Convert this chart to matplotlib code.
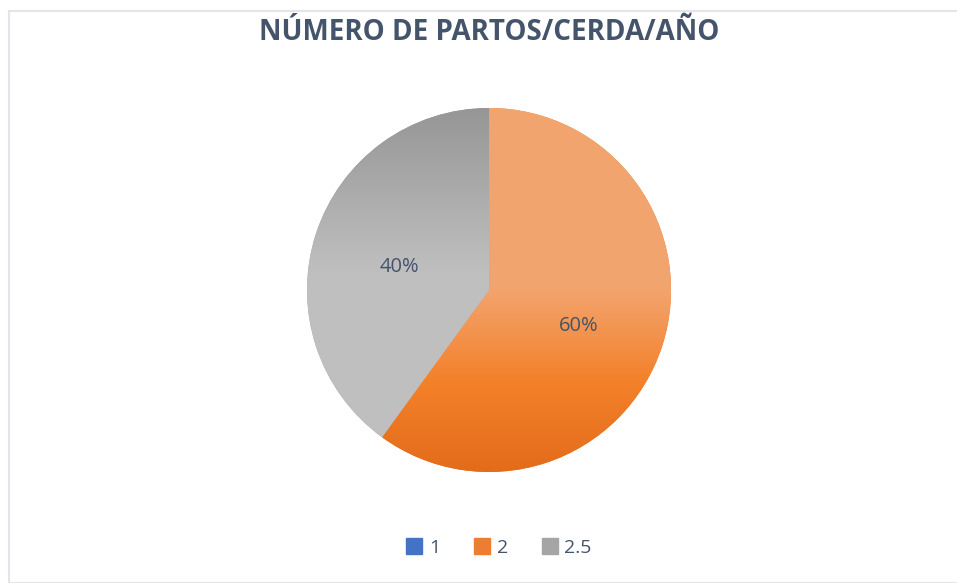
import matplotlib
matplotlib.use("Agg")
import matplotlib.pyplot as plt
import numpy as np
from matplotlib.colors import LinearSegmentedColormap
from matplotlib.lines import Line2D
from matplotlib.patches import Rectangle

categories = ["1", "2", "2.5"]
values = [0, 60, 40]
title = "NÚMERO DE PARTOS/CERDA/AÑO"

base_colors = ["#4472C4", "#ED7D31", "#A5A5A5"]
# vertical gradient stops (position from bottom=0 to top=1)
gradients = [
    [(0.0, "#3A63B0"), (1.0, "#6A8FD3")],
    [(0.0, "#E36C1A"), (0.25, "#F4812A"), (0.5, "#F2A46E"), (1.0, "#F2A46E")],
    [(0.0, "#BFBFBF"), (0.55, "#BFBFBF"), (1.0, "#969696")],
]

txt_color = "#44546A"
fig = plt.figure(figsize=(9.57, 5.83), dpi=100)
fig.patch.set_facecolor("white")

# chart border
fig.patches.append(Rectangle((9/957, 0), 1, 1 - 11/583, transform=fig.transFigure,
                             fill=False, edgecolor="#E4E4EA", linewidth=1.5))

ax = fig.add_axes([0.3208, 0.1904, 0.3804, 0.6244])
ax.set_aspect("equal")

def pct(p):
    return "" if p < 0.5 else f"{p:.0f}%"

wedges, texts, autotexts = ax.pie(values, colors=base_colors, startangle=90,
                                  counterclock=False, autopct=pct,
                                  pctdistance=0.52, radius=1.0,
                                  wedgeprops=dict(linewidth=0))
ax.set_xlim(-1, 1)
ax.set_ylim(-1, 1)

for w, g in zip(wedges, gradients):
    cmap = LinearSegmentedColormap.from_list("g", g)
    grad = np.linspace(0, 1, 256).reshape(-1, 1)
    im = ax.imshow(grad, cmap=cmap, origin="lower", extent=[-1, 1, -1, 1],
                   aspect="auto", zorder=w.get_zorder() + 0.1, interpolation="bilinear")
    im.set_clip_path(w)

for t in autotexts:
    t.set_color(txt_color)
    t.set_fontsize(14.5)
    t.set_fontfamily("Open Sans")
    t.set_zorder(10)
    x, y = t.get_position()
    t.set_position((x, y - 0.035))

fig.text(0.511, 1 - 32/583, title, ha="center", va="center", fontsize=20,
         fontweight="bold", color=txt_color, family="Open Sans")

handles = [Line2D([0], [0], marker="s", linestyle="none", markersize=11,
                  markerfacecolor=c, markeredgecolor=c) for c in base_colors]
leg = fig.legend(handles, categories, loc="center", bbox_to_anchor=(0.521, 1 - 548/583),
                 ncol=3, frameon=False, handletextpad=0.3, handlelength=0.9,
                 columnspacing=1.7,
                 prop={"family": "Open Sans", "size": 14})
for t in leg.get_texts():
    t.set_color(txt_color)

fig.savefig("out.png", dpi=100, facecolor="white")
